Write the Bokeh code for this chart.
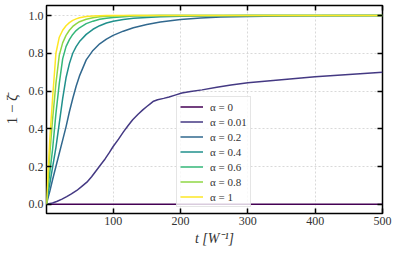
from bokeh.plotting import figure
from bokeh.models import Range1d, LinearAxis, FixedTicker, Legend, LegendItem, PrintfTickFormatter, CustomJSTickFormatter
from bokeh.embed import file_html
from bokeh.resources import INLINE

alpha_labels = ["α = 0", "α = 0.01", "α = 0.2", "α = 0.4", "α = 0.6", "α = 0.8", "α = 1"]
colors = ["#440154", "#443983", "#31688E", "#21908C", "#35B779", "#8FD744", "#FDE725"]

t_a0 = [1, 500]
y_a0 = [0.0, 0.0]

t_a001 = [1, 10, 17, 24, 31, 38, 46, 53, 61, 68, 75, 82, 88, 94, 100, 108, 115, 122, 129, 137,
          144, 150, 155, 160, 166, 175, 183, 192, 202, 215, 232, 254, 275, 300, 350, 400, 450, 500]
y_a001 = [0.0, 0.007, 0.016, 0.027, 0.04, 0.055, 0.073, 0.093, 0.117, 0.146, 0.179, 0.212,
          0.24, 0.272, 0.306, 0.345, 0.382, 0.416, 0.448, 0.477, 0.50, 0.518, 0.532, 0.546,
          0.554, 0.561, 0.568, 0.578, 0.589, 0.597, 0.606, 0.62, 0.632, 0.644, 0.66, 0.675,
          0.688, 0.70]

t_fast = [1, 3, 6, 10, 15, 20, 25, 30, 35, 40, 45, 50, 60, 70, 80, 90, 100, 115, 130, 150,
          170, 200, 230, 260, 300, 350, 400, 500]
y_a02 = [0.0, 0.03, 0.07, 0.13, 0.20, 0.27, 0.34, 0.41, 0.49, 0.56, 0.625, 0.68, 0.765,
         0.815, 0.85, 0.875, 0.895, 0.917, 0.935, 0.952, 0.966, 0.979, 0.987, 0.992, 0.995,
         0.998, 0.999, 1.0]
y_a04 = [0.0, 0.05, 0.11, 0.195, 0.30, 0.43, 0.56, 0.67, 0.745, 0.8, 0.835, 0.862, 0.90,
         0.927, 0.946, 0.96, 0.97, 0.979, 0.985, 0.99, 0.993, 0.996, 0.998, 0.999, 1.0, 1.0,
         1.0, 1.0]
y_a06 = [0.0, 0.08, 0.17, 0.29, 0.48, 0.64, 0.77, 0.835, 0.872, 0.9, 0.92, 0.935, 0.957,
         0.97, 0.98, 0.986, 0.99, 0.994, 0.997, 0.999, 1.0, 1.0, 1.0, 1.0, 1.0, 1.0, 1.0, 1.0]
y_a08 = [0.0, 0.11, 0.27, 0.45, 0.64, 0.79, 0.855, 0.895, 0.922, 0.942, 0.956, 0.967, 0.98,
         0.988, 0.993, 0.996, 0.998, 0.999, 1.0, 1.0, 1.0, 1.0, 1.0, 1.0, 1.0, 1.0, 1.0, 1.0]
y_a1 = [0.0, 0.15, 0.35, 0.56, 0.80, 0.885, 0.922, 0.946, 0.962, 0.974, 0.982, 0.988, 0.995,
        0.998, 0.999, 1.0, 1.0, 1.0, 1.0, 1.0, 1.0, 1.0, 1.0, 1.0, 1.0, 1.0, 1.0, 1.0]

x_ticks = [100, 200, 300, 400, 500]
y_ticks = [0.0, 0.2, 0.4, 0.6, 0.8, 1.0]

series = [
    (t_a0, y_a0),
    (t_a001, y_a001),
    (t_fast, y_a02),
    (t_fast, y_a04),
    (t_fast, y_a06),
    (t_fast, y_a08),
    (t_fast, y_a1),
]

FONT = "Liberation Serif"
TXT = "#333333"

p = figure(width=395, height=251, output_backend="svg", toolbar_location=None,
           x_range=Range1d(1, 500), y_range=Range1d(-0.049, 1.053),
           min_border_left=43, min_border_right=13, min_border_top=5, min_border_bottom=38,
           x_axis_location=None, y_axis_location=None)
p.background_fill_color = "white"
p.border_fill_color = "white"
p.outline_line_color = "black"
p.outline_line_width = 1.5

xt = FixedTicker(ticks=x_ticks)
yt = FixedTicker(ticks=y_ticks)

def style_axis(ax, show_labels):
    ax.axis_line_color = None
    ax.major_tick_in = 5
    ax.major_tick_out = 0
    ax.major_tick_line_width = 1.5
    ax.major_tick_line_color = "black"
    ax.minor_tick_line_color = None
    if show_labels:
        ax.major_label_text_font = FONT
        ax.major_label_text_font_size = "12px"
        ax.major_label_text_color = TXT
        ax.major_label_standoff = 3
    else:
        ax.major_label_standoff = 0

xb = LinearAxis(ticker=xt)
style_axis(xb, True)
xb.axis_label = "t [W⁻¹]"
xb.axis_label_text_font = FONT
xb.axis_label_text_font_style = "italic"
xb.axis_label_text_font_size = "14px"
xb.axis_label_text_color = TXT
xb.axis_label_standoff = 3
p.add_layout(xb, "below")

yl = LinearAxis(ticker=yt, formatter=PrintfTickFormatter(format="%.1f"))
style_axis(yl, True)
yl.axis_label = "1 − ζ̄"
yl.axis_label_text_font = FONT
yl.axis_label_text_font_style = "normal"
yl.axis_label_text_font_size = "15px"
yl.axis_label_text_color = TXT
yl.axis_label_standoff = 6
p.add_layout(yl, "left")

blank = CustomJSTickFormatter(code="return ''")
xa = LinearAxis(ticker=xt, formatter=blank)
style_axis(xa, False)
p.add_layout(xa, "above")

yr = LinearAxis(ticker=yt, formatter=blank)
style_axis(yr, False)
p.add_layout(yr, "right")

p.xgrid.ticker = xt
p.ygrid.ticker = yt
for g in (p.xgrid[0], p.ygrid[0]):
    g.grid_line_color = "#cfcfcf"
    g.grid_line_dash = "2 2"
    g.grid_line_width = 0.8

items = []
for (tx, ty), col, lab in zip(series, colors, alpha_labels):
    r = p.line(tx, ty, line_color=col, line_width=1.5)
    items.append(LegendItem(label=lab, renderers=[r]))

legend = Legend(items=items, location=(130, 6))
legend.label_text_font = FONT
legend.label_text_font_size = "11px"
legend.label_text_color = TXT
legend.glyph_width = 23
legend.glyph_height = 13
legend.label_height = 13
legend.spacing = 2
legend.padding = 3
legend.margin = 0
legend.label_standoff = 7
legend.background_fill_color = "white"
legend.background_fill_alpha = 0.8
legend.border_line_color = "#cccccc"
legend.border_line_width = 1
p.add_layout(legend)

open("out.html", "w").write(file_html(p, INLINE))
